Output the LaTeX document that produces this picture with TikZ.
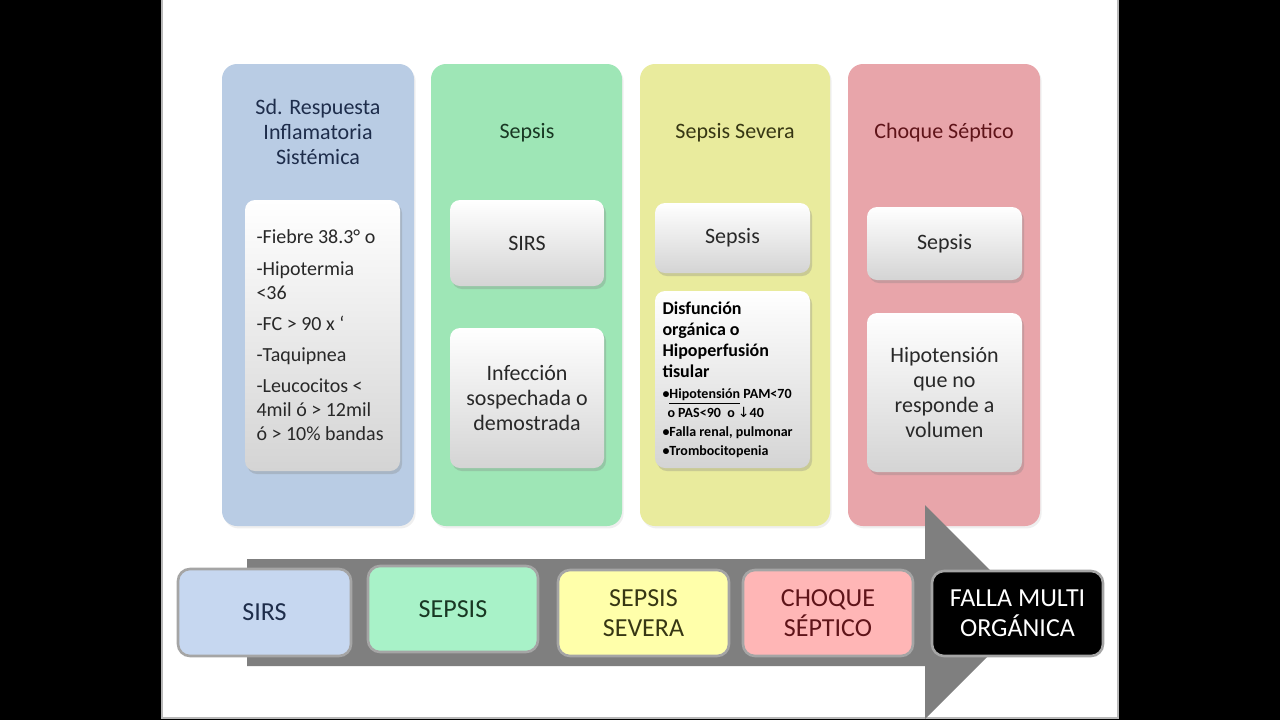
\documentclass[tikz,border=0pt]{standalone}
\usepackage{fontspec}
\setmainfont{Carlito}
\newfontfamily\djv{DejaVu Sans}
\usetikzlibrary{shadows}
\hyphenpenalty=10000
\exhyphenpenalty=10000
\definecolor{colA}{RGB}{185,204,228}
\definecolor{colB}{RGB}{158,230,182}
\definecolor{colC}{RGB}{233,235,157}
\definecolor{colD}{RGB}{232,165,170}
\definecolor{botA}{RGB}{198,215,240}
\definecolor{botB}{RGB}{168,242,200}
\definecolor{botC}{RGB}{255,255,170}
\definecolor{botD}{RGB}{255,182,182}
\definecolor{arrowgray}{RGB}{127,127,127}
\definecolor{txtA}{RGB}{30,45,75}
\definecolor{txtB}{RGB}{25,55,35}
\definecolor{txtC}{RGB}{55,55,20}
\definecolor{txtD}{RGB}{95,20,25}
\definecolor{txtI}{RGB}{40,40,40}
\newcommand\boxat[7]{\node[#6, minimum width={(#4-#2)*0.5pt}, minimum height={(#5-#3)*0.5pt}] (#1) at ({(#2+#4)/2},{(#3+#5)/2}) {#7};}
\tikzset{
  colbox/.style={rounded corners=7.5pt, inner sep=0pt, outer sep=0pt, draw=none,
    drop shadow={opacity=0.12, shadow xshift=0.8pt, shadow yshift=-1.2pt}},
  innerbox/.style={rounded corners=5pt, inner sep=0pt, outer sep=0pt, draw=none,
    top color=white, bottom color={rgb,255:red,212;green,212;blue,212},
    drop shadow={opacity=0.3, shadow xshift=1pt, shadow yshift=-1.5pt},
    text=txtI, align=center, font=\fontsize{11}{12.5}\selectfont},
  titletxt/.style={align=center, inner sep=0pt, font=\fontsize{11}{12.5}\selectfont},
  botbox/.style={rounded corners=6pt, inner sep=0pt, outer sep=0pt,
    draw={rgb,255:red,165;green,165;blue,165}, line width=1.3pt,
    align=center, font=\fontsize{13}{15}\selectfont},
}
\begin{document}
\begin{tikzpicture}[x=0.5pt,y=-0.5pt]
\useasboundingbox (0,0) rectangle (1280,720);
\fill[black] (0,0) rectangle (1280,720);
\draw[fill=white, draw=gray!55, line width=0.6pt] (162,-5) rectangle (1118,718);
% columns
\boxat{cA}{222}{64}{414}{526}{colbox, fill=colA}{}
\boxat{cB}{431}{64}{622}{526}{colbox, fill=colB}{}
\boxat{cC}{640}{64}{830}{526}{colbox, fill=colC}{}
\boxat{cD}{848}{64}{1040}{526}{colbox, fill=colD}{}
% titles
\node[titletxt, text=txtA] (tA) at (318,132) {Sd. Respuesta\\ Inflamatoria\\ Sistémica};
\node[titletxt, text=txtB] (tB) at (527,133) {Sepsis};
\node[titletxt, text=txtC] (tC) at (735,133) {Sepsis Severa};
\node[titletxt, text=txtD] (tD) at (944,133) {Choque Séptico};
% inner boxes
\boxat{iA}{245}{200}{400}{471}{innerbox, text width=66pt, align=flush left, font=\fontsize{10}{12}\selectfont}{-Fiebre 38.3° o\\[3.6pt] -Hipotermia\\ <36\\[3.6pt] -FC > 90 x ‘\\[3.6pt] -Taquipnea\\[3.6pt] -Leucocitos <\\ 4mil ó > 12mil\\ ó > 10\%~bandas}
\boxat{iB1}{450}{200}{604}{286}{innerbox}{SIRS}
\boxat{iB2}{450}{328}{604}{468}{innerbox}{Infección\\ sospechada o\\ demostrada}
\boxat{iC1}{655}{203}{810}{273}{innerbox}{Sepsis}
\boxat{iC2}{655}{291}{810}{468}{innerbox, text width=70pt, align=flush left, text=black, font=\bfseries}{{\fontsize{9}{10.5}\selectfont Disfunción\\ orgánica o\\ Hipoperfusión\\ tisular\par}\vspace{3.2pt}{\fontsize{7}{7.5}\selectfont •\underline{Hipotensión} PAM<70\\ \hspace*{2.5pt}o PAS<90 \ o {\djv\mdseries↓}40\\[2pt] •Falla renal, pulmonar\\[2pt] •Trombocitopenia\par}}
\boxat{iD1}{867}{207}{1022}{280}{innerbox}{Sepsis}
\boxat{iD2}{867}{313}{1022}{472}{innerbox}{Hipotensión\\ que no\\ responde a\\ volumen}
% big arrow
\fill[arrowgray] (247,559) -- (925,559) -- (925,505) -- (1032,612) -- (925,719) -- (925,666) -- (247,666) -- cycle;
% bottom boxes
\boxat{bA}{178}{569}{351}{656}{botbox, fill=botA, text=txtA}{SIRS}
\boxat{bB}{368}{566}{538}{652}{botbox, fill=botB, text=txtB}{SEPSIS}
\boxat{bC}{558}{570}{729}{656}{botbox, fill=botC, text=txtC}{SEPSIS\\ SEVERA}
\boxat{bD}{743}{570}{913}{656}{botbox, fill=botD, text=txtD}{CHOQUE\\ SÉPTICO}
\boxat{bE}{932}{571}{1103}{656}{botbox, fill=black, text=white}{FALLA MULTI\\ ORGÁNICA}
\end{tikzpicture}
\end{document}
